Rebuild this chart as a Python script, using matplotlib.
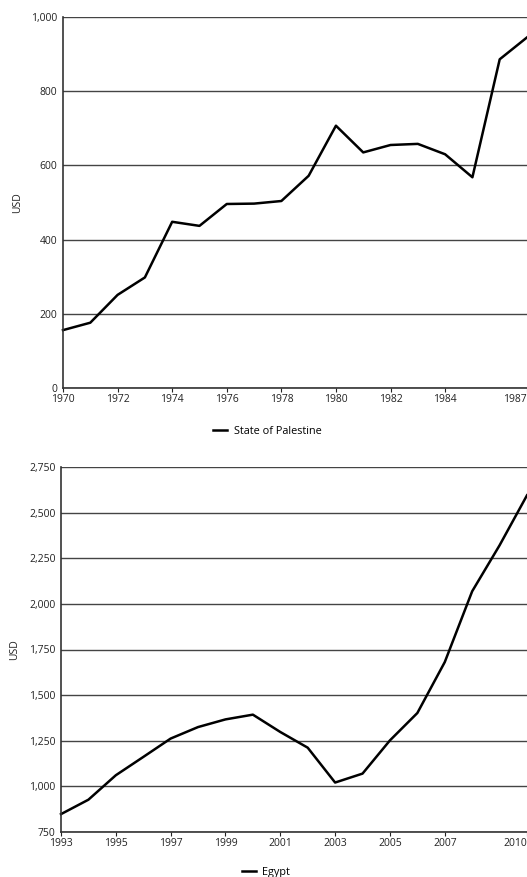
import matplotlib
matplotlib.use("Agg")
import matplotlib.pyplot as plt
from matplotlib.ticker import FuncFormatter

plt.rcParams['font.family'] = ['Open Sans', 'DejaVu Sans']

pal_years = list(range(1970, 1988))
pal_values = [156, 176, 251, 298, 448, 437, 496, 497, 504, 572, 707, 635, 655, 658, 630, 568, 886, 945]
pal_xticks = [1970, 1972, 1974, 1976, 1978, 1980, 1982, 1984, 1987]
pal_yticks = [0, 200, 400, 600, 800, 1000]

egy_years = list(range(1993, 2011))
egy_values = [848, 927, 1061, 1161, 1262, 1325, 1367, 1393, 1298, 1212, 1021, 1070, 1252, 1402, 1681, 2069, 2321, 2595]
egy_xticks = [1993, 1995, 1997, 1999, 2001, 2003, 2005, 2007, 2010]
egy_yticks = [750, 1000, 1250, 1500, 1750, 2000, 2250, 2500, 2750]

W, H = 527, 877
fig = plt.figure(figsize=(W / 100, H / 100), dpi=100)

def ax_rect(l, t, r, b):
    return [l / W, 1 - b / H, (r - l) / W, (b - t) / H]

fmt = FuncFormatter(lambda v, p: f"{int(v):,}")

def style(ax, xt, yt, xlim, ylim):
    ax.set_xlim(*xlim)
    ax.set_ylim(*ylim)
    ax.set_xticks(xt)
    ax.set_xticklabels([str(v) for v in xt])
    ax.set_yticks(yt)
    ax.yaxis.set_major_formatter(fmt)
    ax.grid(axis='y', color='#444444', linewidth=1.0)
    ax.set_axisbelow(True)
    for s in ['top', 'right']:
        ax.spines[s].set_visible(False)
    for s in ['left', 'bottom']:
        ax.spines[s].set_color('#333333')
        ax.spines[s].set_linewidth(1.2)
    ax.tick_params(axis='both', labelsize=7.5, colors='#222222', length=3, width=0.8, pad=1)
    ax.tick_params(axis='y', length=0, pad=4)
    ax.set_ylabel('USD', fontsize=7.5, color='#222222', labelpad=6)
    ax.get_xticklabels()[-1].set_horizontalalignment('right')

ax1 = fig.add_axes(ax_rect(63, 17, 527, 388))
ax1.plot(pal_years, pal_values, color='black', linewidth=1.8, label='State of Palestine', clip_on=False)
style(ax1, pal_xticks, pal_yticks, (1970, 1987), (0, 1000))
ax1.legend(loc='upper center', bbox_to_anchor=(0.44, -0.075), frameon=False, fontsize=7.8,
           handlelength=1.3, handletextpad=0.6)

ax2 = fig.add_axes(ax_rect(61, 467, 527, 832))
ax2.plot(egy_years, egy_values, color='black', linewidth=1.8, label='Egypt', clip_on=False)
style(ax2, egy_xticks, egy_yticks, (1993, 2010), (750, 2750))
ax2.legend(loc='upper center', bbox_to_anchor=(0.44, -0.068), frameon=False, fontsize=7.8,
           handlelength=1.3, handletextpad=0.6)

fig.savefig('out.png', dpi=100)
